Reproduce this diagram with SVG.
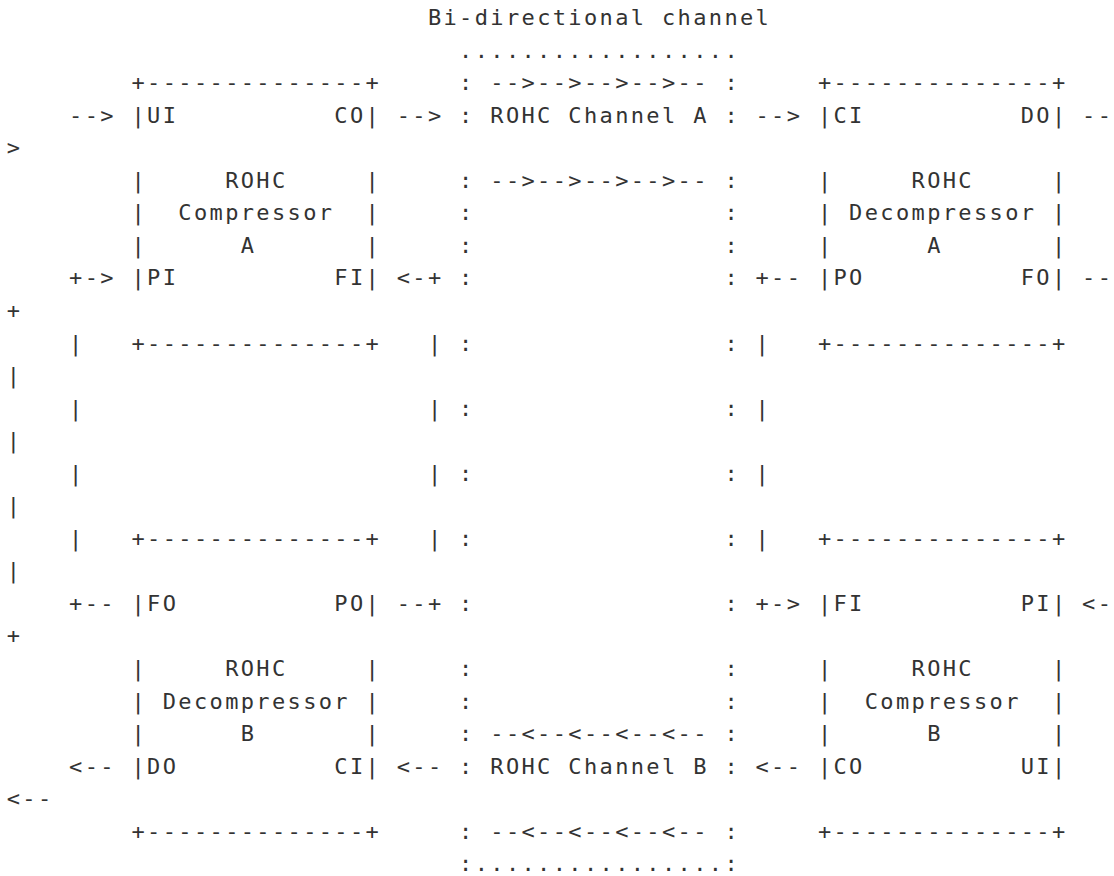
<svg xmlns="http://www.w3.org/2000/svg" width="1114" height="876" viewBox="0 0 1114 876" xml:space="preserve">
<style>
text { font-family: "DejaVu Sans Mono", "Liberation Mono", monospace; font-size: 22px; letter-spacing: 2.36px; fill: #333333; white-space: pre; }
</style>
<rect x="0" y="0" width="1114" height="876" fill="#ffffff"/>
<g id="title">
<text x="427.9" y="25">Bi-directional channel</text>
</g>
<g id="channel">
<text x="459.1" y="57.55">..................</text>
<text x="459.1" y="90.1">: -->-->-->-->-- :</text>
<text x="459.1" y="122.65">: ROHC Channel A :</text>
<text x="459.1" y="187.75">: -->-->-->-->-- :</text>
<text x="459.1" y="220.3">:                :</text>
<text x="459.1" y="252.85">:                :</text>
<text x="459.1" y="285.4">:                :</text>
<text x="459.1" y="350.5">:                :</text>
<text x="459.1" y="415.6">:                :</text>
<text x="459.1" y="480.7">:                :</text>
<text x="459.1" y="545.8">:                :</text>
<text x="459.1" y="610.9">:                :</text>
<text x="459.1" y="676">:                :</text>
<text x="459.1" y="708.55">:                :</text>
<text x="459.1" y="741.1">: --&lt;--&lt;--&lt;--&lt;-- :</text>
<text x="459.1" y="773.65">: ROHC Channel B :</text>
<text x="459.1" y="838.75">: --&lt;--&lt;--&lt;--&lt;-- :</text>
<text x="459.1" y="871.3">:................:</text>
</g>
<g id="compressor-a">
<text x="131.5" y="90.1">+--------------+</text>
<text x="131.5" y="122.65">|UI          CO|</text>
<text x="131.5" y="187.75">|     ROHC     |</text>
<text x="131.5" y="220.3">|  Compressor  |</text>
<text x="131.5" y="252.85">|      A       |</text>
<text x="131.5" y="285.4">|PI          FI|</text>
<text x="131.5" y="350.5">+--------------+</text>
</g>
<g id="decompressor-a">
<text x="817.9" y="90.1">+--------------+</text>
<text x="817.9" y="122.65">|CI          DO|</text>
<text x="817.9" y="187.75">|     ROHC     |</text>
<text x="817.9" y="220.3">| Decompressor |</text>
<text x="817.9" y="252.85">|      A       |</text>
<text x="817.9" y="285.4">|PO          FO|</text>
<text x="817.9" y="350.5">+--------------+</text>
</g>
<g id="decompressor-b">
<text x="131.5" y="545.8">+--------------+</text>
<text x="131.5" y="610.9">|FO          PO|</text>
<text x="131.5" y="676">|     ROHC     |</text>
<text x="131.5" y="708.55">| Decompressor |</text>
<text x="131.5" y="741.1">|      B       |</text>
<text x="131.5" y="773.65">|DO          CI|</text>
<text x="131.5" y="838.75">+--------------+</text>
</g>
<g id="compressor-b">
<text x="817.9" y="545.8">+--------------+</text>
<text x="817.9" y="610.9">|FI          PI|</text>
<text x="817.9" y="676">|     ROHC     |</text>
<text x="817.9" y="708.55">|  Compressor  |</text>
<text x="817.9" y="741.1">|      B       |</text>
<text x="817.9" y="773.65">|CO          UI|</text>
<text x="817.9" y="838.75">+--------------+</text>
</g>
<g id="connectors">
<text x="69.1" y="122.65">--&gt;</text>
<text x="396.7" y="122.65">--&gt;</text>
<text x="755.5" y="122.65">--&gt;</text>
<text x="1082.1" y="122.65">--</text>
<text x="6.7" y="155.2">&gt;</text>
<text x="69.1" y="285.4">+-&gt;</text>
<text x="396.7" y="285.4">&lt;-+</text>
<text x="755.5" y="285.4">+--</text>
<text x="1082.1" y="285.4">--</text>
<text x="6.7" y="317.95">+</text>
<text x="69.1" y="350.5">|</text>
<text x="427.9" y="350.5">|</text>
<text x="755.5" y="350.5">|</text>
<text x="6.7" y="383.05">|</text>
<text x="69.1" y="415.6">|</text>
<text x="427.9" y="415.6">|</text>
<text x="755.5" y="415.6">|</text>
<text x="6.7" y="448.15">|</text>
<text x="69.1" y="480.7">|</text>
<text x="427.9" y="480.7">|</text>
<text x="755.5" y="480.7">|</text>
<text x="6.7" y="513.25">|</text>
<text x="69.1" y="545.8">|</text>
<text x="427.9" y="545.8">|</text>
<text x="755.5" y="545.8">|</text>
<text x="6.7" y="578.35">|</text>
<text x="69.1" y="610.9">+--</text>
<text x="396.7" y="610.9">--+</text>
<text x="755.5" y="610.9">+-&gt;</text>
<text x="1082.1" y="610.9">&lt;-</text>
<text x="6.7" y="643.45">+</text>
<text x="69.1" y="773.65">&lt;--</text>
<text x="396.7" y="773.65">&lt;--</text>
<text x="755.5" y="773.65">&lt;--</text>
<text x="6.7" y="806.2">&lt;--</text>
</g>
</svg>
